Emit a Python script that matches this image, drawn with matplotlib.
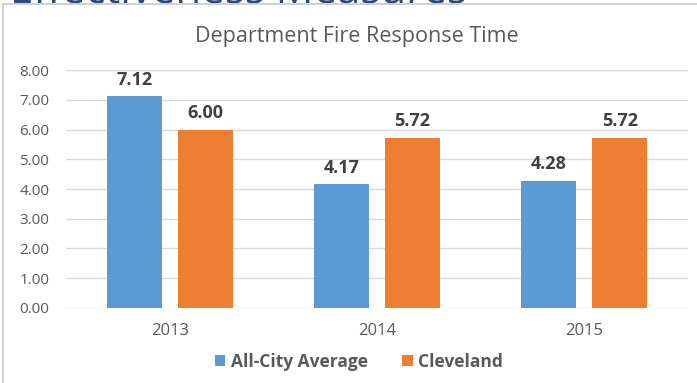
import numpy as np
import matplotlib.pyplot as plt
from matplotlib.patches import Rectangle, PathPatch
from matplotlib.textpath import TextPath
from matplotlib.font_manager import FontProperties
from matplotlib.transforms import Affine2D

# data
years = ['2013', '2014', '2015']
all_city = [7.12, 4.17, 4.28]
cleveland = [6.00, 5.72, 5.72]
series_names = ['All-City Average', 'Cleveland']
yticks = np.arange(0, 9, 1)

blue = '#5B9BD5'
orange = '#ED7D31'
grey_txt = '#595959'

plt.rcParams['font.family'] = ['Open Sans', 'DejaVu Sans']

fig = plt.figure(figsize=(6.97, 3.83), dpi=100)
ax = fig.add_axes([0.0947, 0.196, 0.8923, 0.621])

x = np.arange(len(years))
w = 0.266
off = 0.171
b1 = ax.bar(x - off, all_city, w, color=blue, label=series_names[0], zorder=3)
b2 = ax.bar(x + off, cleveland, w, color=orange, label=series_names[1], zorder=3)

for bars, vals in [(b1, all_city), (b2, cleveland)]:
    for r, v in zip(bars, vals):
        ax.text(r.get_x() + r.get_width()/2, v + 0.25, '{:.2f}'.format(v),
                ha='center', va='bottom', fontsize=13, fontweight='bold', color='#404040')

ax.set_xlim(-0.5, 2.5)
ax.set_ylim(0, 8)
ax.set_yticks(yticks)
ax.set_yticklabels(['{:.2f}'.format(t) for t in yticks])
ax.set_xticks(x)
ax.set_xticklabels(years)
ax.grid(axis='y', color='#D9D9D9', lw=1, zorder=0)
for s in ax.spines.values():
    s.set_visible(False)
ax.tick_params(axis='both', length=0, colors=grey_txt)
ax.tick_params(axis='y', labelsize=11, pad=12)
ax.tick_params(axis='x', labelsize=12, pad=11)

fig.text(0.512, 0.905, 'Department Fire Response Time', ha='center', va='center',
         fontsize=15.5, color=grey_txt)

leg = fig.legend(loc='center', bbox_to_anchor=(0.515, 0.055), ncol=2, frameon=False,
                 prop={'size': 12.5, 'weight': 'bold'}, handlelength=0.6, handleheight=0.6,
                 handletextpad=0.3, columnspacing=2.0)
for t in leg.get_texts():
    t.set_color(grey_txt)

# chart border and the cut-off page heading above it (only its lower edge shows)
fig.patches.append(Rectangle((0.0043, -0.01), 1.1, 0.99 + 0.01, transform=fig.transFigure,
                             fill=False, ec='#C8C8C8', lw=1.2))
heading = TextPath((0, 0), 'Effectiveness Measures', size=42,
                   prop=FontProperties(family='Open Sans'))
fig.add_artist(PathPatch(heading, fc='#2E4A7A', ec='none',
                         transform=Affine2D().translate(10, 380)))

fig.savefig('out.png', dpi=100)
